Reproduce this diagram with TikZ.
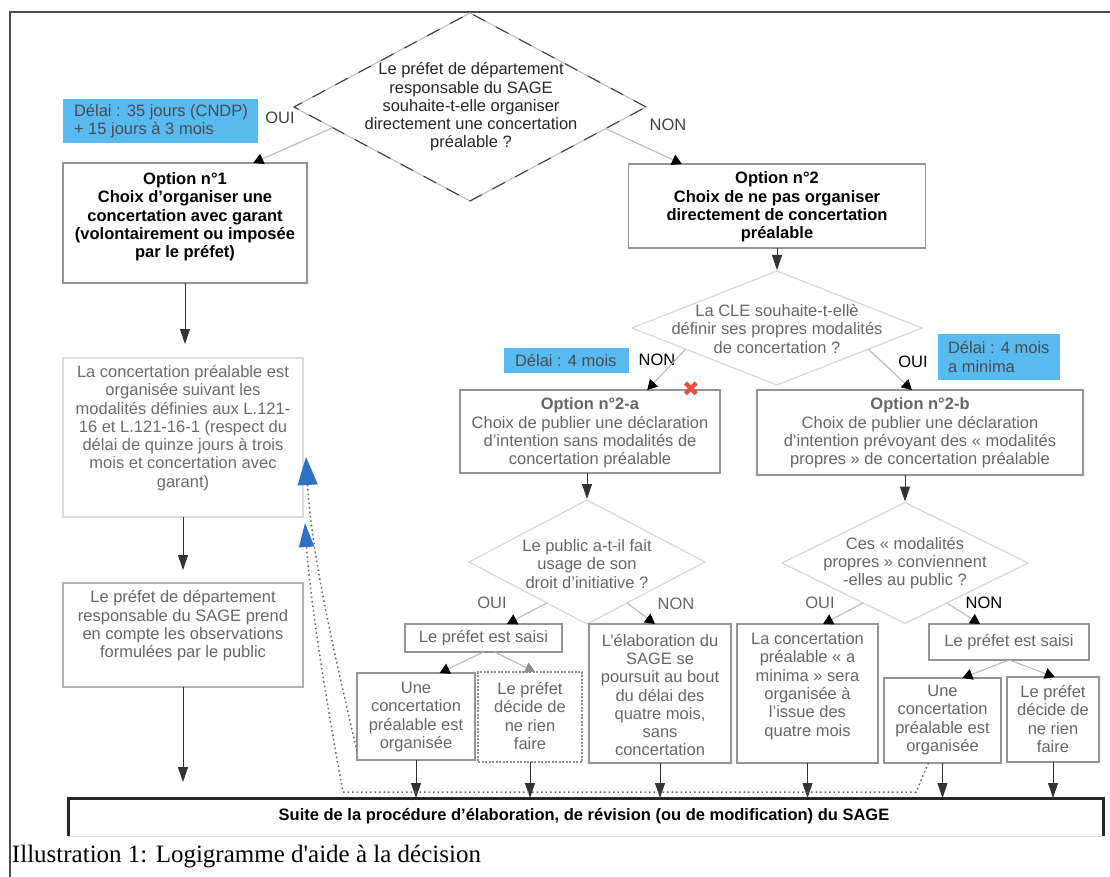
\documentclass[tikz,border=0pt]{standalone}
\usepackage{fontspec}
\setmainfont{Liberation Sans}
\newfontfamily\capfont{Liberation Serif}
\newfontfamily\symfont{DejaVu Sans}
\usetikzlibrary{shapes.geometric,arrows.meta,calc}
\definecolor{skyb}{RGB}{88,186,240}
\definecolor{arrblue}{RGB}{44,114,196}
\definecolor{xred}{RGB}{232,78,66}
\begin{document}
\begin{tikzpicture}[x=1pt,y=-1pt,
  every node/.style={inner sep=0pt,outer sep=0pt,font=\fontsize{16.5}{18.3}\selectfont},
  txt/.style={align=center},
  box/.style={draw=black!42,line width=1.3pt,rectangle},
  lbox/.style={draw=black!14,line width=1.2pt,rectangle},
  bluebox/.style={fill=skyb,rectangle},
  dia/.style={diamond,draw=black!16,line width=1.2pt},
  con/.style={draw=black!28,line width=1.1pt,-{Triangle[width=11pt,length=10pt,color=black]}},
  gcon/.style={draw=black!28,line width=1.1pt,-{Triangle[width=11pt,length=10pt,color=black!45]}},
  vcon/.style={draw=black!80,line width=1pt,-{Triangle[width=10pt,length=15pt]}},
  dotln/.style={draw=black!60,line width=1.5pt,dash pattern=on 1.5pt off 3pt},
  lab/.style={text=black!75}]
\useasboundingbox (0,0) rectangle (1110,877);
% frame
\draw[black!70,line width=1.6pt] (10,877) -- (10,12) -- (1110,12);

% top diamond
\node[diamond,minimum width=352pt,minimum height=188pt,draw=black!25,line width=1.1pt,
  postaction={draw=black!75,line width=1.1pt,dash pattern=on 14pt off 12pt}] (D1) at (470,107) {};
\node[txt,text=black!85] (D1t) at (471,107) {Le préfet de département\\responsable du SAGE\\souhaite-t-elle organiser\\directement une concertation\\préalable ?};

\node[bluebox,minimum width=195pt,minimum height=44pt] (B1) at (160.5,121) {};
\node[align=left,anchor=west,text=black!70] (B1t) at (74,121) {Délai : 35 jours (CNDP)\\+ 15 jours à 3 mois};
\node[lab] (OUI1) at (280,118) {OUI};
\node[lab] (NON1) at (668,125) {NON};

% options 1 and 2
\node[box,minimum width=244pt,minimum height=120pt] (O1) at (185,223) {};
\node[txt,font=\fontsize{16.5}{18.3}\selectfont\bfseries] (O1t) at (185,217) {Option n°1\\Choix d'organiser une\\concertation avec garant\\(volontairement ou imposée\\par le préfet)};
\node[box,minimum width=297pt,minimum height=84pt] (O2) at (777,206) {};
\node[txt,font=\fontsize{16.5}{18.3}\selectfont\bfseries] (O2t) at (777,207) {Option n°2\\Choix de ne pas organiser\\directement de concertation\\préalable};

\draw[con] ($(D1.west)!0.22!(D1.south)$) -- ($(O1.north west)!0.78!(O1.north east)$);
\draw[con] ($(D1.east)!0.23!(D1.south)$) -- ($(O2.north west)!0.18!(O2.north east)$);

% left column
\node[lbox,minimum width=240pt,minimum height=159pt] (C1) at (183,437.5) {};
\node[txt,text=black!58] (C1t) at (183,428) {La concertation préalable est\\organisée suivant les\\modalités définies aux L.121-\\16 et L.121-16-1 (respect du\\délai de quinze jours à trois\\mois et concertation avec\\garant)};
\node[draw=black!30,line width=1.2pt,rectangle,minimum width=240pt,minimum height=104pt] (P1) at (183,635) {};
\node[txt,text=black!60] (P1t) at (183,626) {Le préfet de département\\responsable du SAGE prend\\en compte les observations\\formulées par le public};
\draw[vcon,shorten >=14pt] (O1.south) -- (O1.south |- C1.north);
\draw[vcon,shorten >=13pt] (C1.south) -- (C1.south |- P1.north);

% second diamond
\node[dia,minimum width=290pt,minimum height=114pt] (D2) at (777,328) {};
\node[txt,text=black!60] (D2t) at (777,329) {La CLE souhaite-t-ellè\\définir ses propres modalités\\de concertation ?};
\draw[vcon,shorten >=1pt] (O2.south) -- (D2.north);

\node[bluebox,minimum width=125pt,minimum height=25pt] (B2) at (566.5,360.5) {};
\node[anchor=west,text=black!70] (B2t) at (515,360.5) {Délai : 4 mois};
\node[text=black] (NON2) at (657,360) {NON};
\node[text=black] (OUI2) at (913,362) {OUI};
\node[bluebox,minimum width=122pt,minimum height=46pt] (B3) at (999,357) {};
\node[align=left,anchor=west,text=black!70] (B3t) at (948,357) {Délai : 4 mois\\a minima};

\node[box,minimum width=260pt,minimum height=83pt] (O2a) at (590,431.5) {};
\node[txt,text=black!60] (O2at) at (590,433) {\textbf{Option n°2-a}\\Choix de publier une déclaration\\d'intention sans modalités de\\concertation préalable};
\node[box,minimum width=326pt,minimum height=85pt] (O2b) at (920,432.5) {};
\node[txt,text=black!60] (O2bt) at (920,433) {\textbf{Option n°2-b}\\Choix de publier une déclaration\\d'intention prévoyant des « modalités\\propres » de concertation préalable};
\node[text=xred,font=\symfont\fontsize{21}{21}\selectfont] (RX) at (691,389) {✖};

\draw[con] ($(D2.west)!0.37!(D2.south)$) -- ($(O2a.north west)!0.72!(O2a.north east)$);
\draw[con] ($(D2.east)!0.37!(D2.south)$) -- ($(O2b.north west)!0.475!(O2b.north east)$);

% third and fourth diamonds
\node[dia,minimum width=236pt,minimum height=124pt] (D3) at (587,562) {};
\node[txt,text=black!60] (D3t) at (587,564) {Le public a-t-il fait\\usage de son\\droit d'initiative ?};
\node[dia,minimum width=246pt,minimum height=121pt] (D4) at (905,563) {};
\node[txt,text=black!60] (D4t) at (905,563) {Ces « modalités\\propres » conviennent\\-elles au public ?};
\draw[vcon,shorten >=1pt] (D3.north |- O2a.south) -- (D3.north);
\draw[vcon,shorten >=1pt] (D4.north |- O2b.south) -- (D4.north);

\node[text=black!60] (OUI3) at (492,603) {OUI};
\node[text=black!60] (NON3) at (676,604) {NON};
\node[text=black!60] (OUI4) at (820,603) {OUI};
\node[text=black] (NON4) at (984,603) {NON};

% result boxes
\node[box,minimum width=157pt,minimum height=28pt,text=black!60] (S1) at (483.5,638) {Le préfet est saisi};
\node[box,minimum width=142pt,minimum height=139pt] (E1) at (660,693.5) {};
\node[txt,text=black!60] (E1t) at (660,695) {L'élaboration du\\SAGE se\\poursuit au bout\\du délai des\\quatre mois,\\sans\\concertation};
\node[box,minimum width=141pt,minimum height=139pt] (L1) at (807.5,693.5) {};
\node[txt,text=black!60] (L1t) at (807.5,686) {La concertation\\préalable « a\\minima » sera\\organisée à\\l'issue des\\quatre mois};
\node[box,minimum width=160pt,minimum height=36pt,text=black!60] (S2) at (1009,642) {Le préfet est saisi};

\draw[con] ($(D3.west)!0.66!(D3.south)$) -- ($(S1.north west)!0.65!(S1.north east)$);
\draw[con] ($(D3.east)!0.66!(D3.south)$) -- ($(E1.north west)!0.465!(E1.north east)$);
\draw[con] ($(D4.west)!0.66!(D4.south)$) -- ($(L1.north west)!0.61!(L1.north east)$);
\draw[con] ($(D4.east)!0.66!(D4.south)$) -- ($(S2.north west)!0.32!(S2.north east)$);

\node[box,minimum width=118pt,minimum height=87pt] (U1) at (416,716.5) {};
\node[txt,text=black!60] (U1t) at (416,717) {Une\\concertation\\préalable est\\organisée};
\node[draw=black!45,line width=1.2pt,dash pattern=on 2pt off 1.5pt,rectangle,minimum width=104pt,minimum height=90pt] (N1) at (530,717) {};
\node[txt,text=black!60] (N1t) at (530,716) {Le préfet\\décide de\\ne rien\\faire};
\node[box,minimum width=117pt,minimum height=85pt] (U2) at (942.5,720.5) {};
\node[txt,text=black!60] (U2t) at (942.5,720) {Une\\concertation\\préalable est\\organisée};
\node[box,minimum width=92pt,minimum height=85pt] (N2) at (1053,719.5) {};
\node[txt,text=black!60] (N2t) at (1053,719) {Le préfet\\décide de\\ne rien\\faire};

\draw[con] (S1.south) -- ($(U1.north west)!0.70!(U1.north east)$);
\draw[gcon] ($(S1.south west)!0.57!(S1.south east)$) -- ($(N1.north west)!0.55!(N1.north east)$);
\draw[con] (S2.south) -- ($(U2.north west)!0.67!(U2.north east)$);
\draw[con] (S2.south) -- ($(N2.north west)!0.52!(N2.north east)$);

% bottom bar
\node[minimum width=1035pt,minimum height=38pt] (Bar) at (585.5,817) {};
\draw[black!15,line width=1pt] (Bar.south west) -- (Bar.south east);
\draw[black!85,line width=3pt] (Bar.south west) -- (Bar.north west) -- (Bar.north east) -- (Bar.south east);
\node[font=\fontsize{16.5}{18.3}\selectfont\bfseries] (BarT) at (584,816) {Suite de la procédure d'élaboration, de révision (ou de modification) du SAGE};

\draw[vcon] (P1.south) -- ($(P1.south |- Bar.north)+(0,-16)$);
\foreach \b in {U1,N1,E1,L1,U2,N2} {\draw[vcon] (\b.south) -- (\b.south |- Bar.north);}

% dotted feedback lines
\coordinate (A0) at ($(U1.south west)!0.1!(U1.north west)$);
\draw[dotln,-{Triangle[width=20pt,length=28pt,color=arrblue]}] (A0) .. controls (336,660) and (312,560) .. (306,457);
\coordinate (B0) at ($(U2.south west)!0.38!(U2.south east)$);
\coordinate (B1c) at (916,792);
\coordinate (B2c) at (343,792);
\draw[dotln,-{Triangle[width=15pt,length=24pt,color=arrblue]}] (B0) -- (B1c) -- (B2c) .. controls (326,700) and (310,600) .. (305,523);

% caption
\node[anchor=base west,font=\capfont\fontsize{25}{27}\selectfont] (Cap) at (12,862) {Illustration 1: Logigramme d'aide à la décision};
\end{tikzpicture}
\end{document}
